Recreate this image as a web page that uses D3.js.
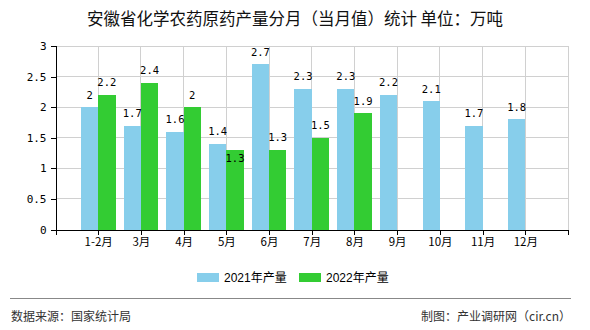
<!DOCTYPE html>
<html>
<head>
<meta charset="utf-8">
<script src="https://cdn.jsdelivr.net/npm/d3@7"></script>
<style>
  html, body { margin: 0; padding: 0; background: #fff; }
  svg { display: block; }
</style>
</head>
<body>
<div id="chart"></div>
<script>
const categories = ["1-2月","3月","4月","5月","6月","7月","8月","9月","10月","11月","12月"];
const values2021 = [2, 1.7, 1.6, 1.4, 2.7, 2.3, 2.3, 2.2, 2.1, 1.7, 1.8];
const values2022 = [2.2, 2.4, 2, 1.3, 1.3, 1.5, 1.9, null, null, null, null];
const seriesNames = ["2021年产量", "2022年产量"];
const yTicks = [0, 0.5, 1, 1.5, 2, 2.5, 3];
const titleText = "安徽省化学农药原药产量分月（当月值）统计 单位：万吨";
const sourceText = "数据来源：国家统计局";
const creditText = "制图：产业调研网（cir.cn）";

const W = 590, H = 330;
const plot = { left: 55.5, right: 568, top: 46, bottom: 229.5 };
const colors = ["#87CEEB", "#33CC33"];
const cjk = "'Noto Sans CJK SC', 'Noto Sans', sans-serif";
const mono = "'DejaVu Sans Mono', 'Liberation Mono', monospace";

const svg = d3.select("#chart").append("svg").attr("width", W).attr("height", H);

const x = d3.scalePoint().domain(categories).range([plot.left, plot.right]).padding(1);
const y = d3.scaleLinear().domain([0, 3]).range([plot.bottom, plot.top]);
const step = x.step();
const barW = step * 0.405;

// title
svg.append("text").attr("x", 295).attr("y", 24.5).attr("text-anchor", "middle")
  .attr("font-family", cjk).attr("font-size", 16.5).attr("fill", "#111").text(titleText);

// grid
const grid = svg.append("g").attr("stroke", "#d0d0d0").attr("stroke-width", 1).attr("shape-rendering", "crispEdges");
grid.selectAll("line.h").data(yTicks.filter(t => t > 0)).join("line")
  .attr("x1", plot.left).attr("x2", plot.right).attr("y1", d => y(d)).attr("y2", d => y(d));
grid.selectAll("line.v").data(categories.map(c => x(c)).concat([plot.right])).join("line")
  .attr("x1", d => d).attr("x2", d => d).attr("y1", plot.top).attr("y2", plot.bottom);

// bars
const series = [values2021, values2022];
series.forEach((vals, si) => {
  svg.append("g").attr("shape-rendering", "crispEdges")
    .selectAll("rect").data(categories.map((c, i) => ({ c, v: vals[i] })).filter(d => d.v != null))
    .join("rect")
    .attr("x", d => si === 0 ? x(d.c) - barW : x(d.c))
    .attr("width", barW)
    .attr("y", d => y(d.v))
    .attr("height", d => y(0) - y(d.v))
    .attr("fill", colors[si]);
});

// labels
const labels = [];
categories.forEach((c, i) => {
  const a = values2021[i], b = values2022[i];
  const ya = a != null ? y(a) - 8.5 : null;
  const yb = b != null ? y(b) - 8.5 : null;
  let la = ya, lb = yb;
  if (a != null && b != null && Math.abs(ya - yb) < 10) {
    if (a < b) la = y(a) + 12.5; else lb = y(b) + 12.5;
  }
  if (a != null) labels.push({ x: x(c) - barW / 2, y: la, t: String(a) });
  if (b != null) labels.push({ x: x(c) + barW / 2, y: lb, t: String(b) });
});
svg.append("g").selectAll("text").data(labels).join("text")
  .attr("x", d => d.x).attr("y", d => d.y).attr("text-anchor", "middle")
  .attr("font-family", mono).attr("font-size", 10.5).attr("fill", "#000").text(d => d.t);

// axes
const xAxis = svg.append("g").attr("transform", `translate(0,${plot.bottom})`)
  .call(d3.axisBottom(x).tickSize(5).tickSizeOuter(5).tickPadding(3));
xAxis.selectAll("text").attr("font-family", cjk).attr("font-size", 11.5).attr("fill", "#000");
const yAxis = svg.append("g").attr("transform", `translate(${plot.left},0)`)
  .call(d3.axisLeft(y).tickValues(yTicks).tickFormat(d3.format("")).tickSize(5).tickSizeOuter(5).tickPadding(4));
yAxis.selectAll("text").attr("font-family", mono).attr("font-size", 11).attr("fill", "#000");
svg.selectAll(".domain, .tick line").attr("stroke", "#000").attr("shape-rendering", "crispEdges");

// legend
const legend = svg.append("g");
const legendX = [197, 299];
seriesNames.forEach((n, i) => {
  legend.append("rect").attr("x", legendX[i]).attr("y", 273).attr("width", 22).attr("height", 9).attr("fill", colors[i]);
  legend.append("text").attr("x", legendX[i] + 27).attr("y", 281.5)
    .attr("font-family", "'Liberation Sans', 'Noto Sans CJK SC', sans-serif").attr("font-size", 12)
    .attr("fill", "#000").text(n);
});

// footer
svg.append("line").attr("x1", 10).attr("x2", 571).attr("y1", 298.5).attr("y2", 298.5)
  .attr("stroke", "#888").attr("stroke-width", 1.2);
svg.append("text").attr("x", 11).attr("y", 321).attr("font-family", cjk).attr("font-size", 12)
  .attr("fill", "#333").text(sourceText);
svg.append("text").attr("x", 571).attr("y", 321).attr("text-anchor", "end").attr("font-family", cjk).attr("font-size", 12)
  .attr("fill", "#333").text(creditText);
</script>
</body>
</html>
